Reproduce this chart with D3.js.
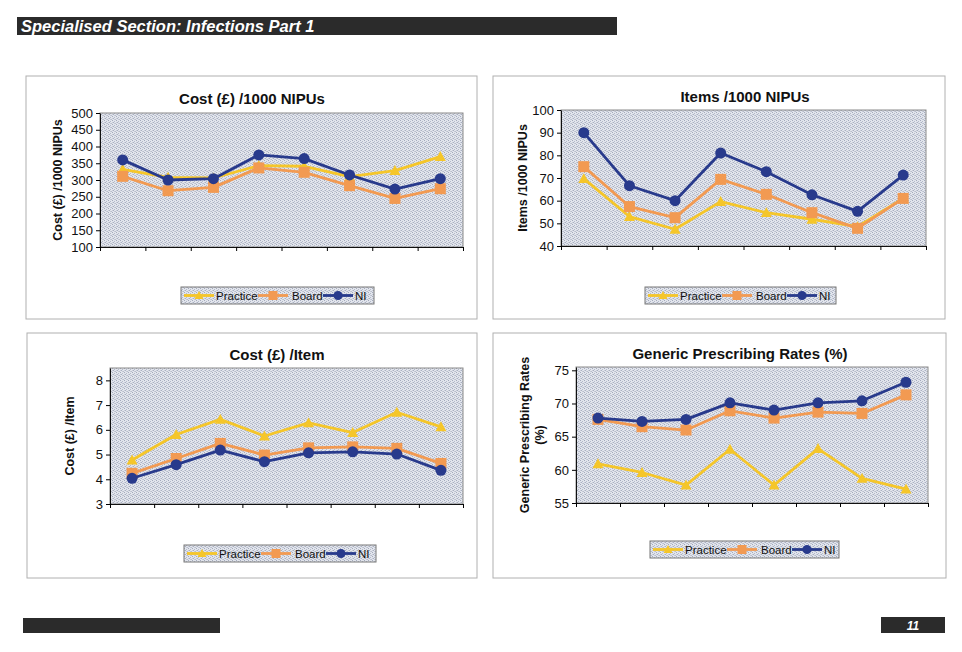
<!DOCTYPE html>
<html><head><meta charset="utf-8">
<script src="https://cdn.jsdelivr.net/npm/d3@7"></script>
<style>
body{margin:0;background:#fff;}
svg{display:block;font-family:"Liberation Sans",Arial,sans-serif;}
</style></head>
<body>
<svg id="c" width="962" height="652"></svg>
<script>
// ---- data ----
const categories = ["1","2","3","4","5","6","7","8"];
const seriesNames = ["Practice","Board","NI"];

const costPer1000Practice = [332, 308, 306, 343, 341, 310, 328, 370];
const costPer1000Board    = [311, 268, 278, 336, 323, 283, 245, 274];
const costPer1000NI       = [360, 300, 304, 375, 364, 315, 273, 304];

const itemsPer1000Practice = [69.7, 53.0, 47.4, 59.6, 54.7, 51.8, 48.5, 61.0];
const itemsPer1000Board    = [75.0, 57.4, 52.5, 69.4, 62.8, 54.7, 47.8, 61.0];
const itemsPer1000NI       = [90.0, 66.6, 60.0, 81.0, 72.8, 62.6, 55.3, 71.3];

const costPerItemPractice = [4.78, 5.81, 6.42, 5.75, 6.28, 5.89, 6.71, 6.12];
const costPerItemBoard    = [4.24, 4.84, 5.45, 4.98, 5.27, 5.31, 5.25, 4.64];
const costPerItemNI       = [4.04, 4.59, 5.18, 4.71, 5.07, 5.11, 5.02, 4.36];

const genericPractice = [60.9, 59.6, 57.7, 63.1, 57.7, 63.2, 58.7, 57.1];
const genericBoard    = [67.6, 66.5, 66.0, 68.9, 67.8, 68.7, 68.5, 71.3];
const genericNI       = [67.8, 67.3, 67.6, 70.1, 69.0, 70.1, 70.4, 73.2];

const ticksCost1000 = [100,150,200,250,300,350,400,450,500];
const ticksItems1000 = [40,50,60,70,80,90,100];
const ticksCostItem = [3,4,5,6,7,8];
const ticksGeneric = [55,60,65,70,75];

const headerText = "Specialised Section: Infections Part 1";
const pageNumber = "11";

// ---- drawing ----
const colors = {Practice:"#f5c62a", Board:"#f29a52", NI:"#283a8c"};
const svg = d3.select("#c");
const defs = svg.append("defs");
const pat = defs.append("pattern").attr("id","dots").attr("width",4).attr("height",4).attr("patternUnits","userSpaceOnUse");
pat.append("rect").attr("width",4).attr("height",4).attr("fill","#e2e5ec");
[[0,0,"#a3aabd"],[2,1,"#b3b9ca"],[1,2,"#a9b0c2"],[3,3,"#b8bdcc"],[2,3,"#c4c9d6"],[0,2,"#c8ccd8"]].forEach(([px,py,c])=>
  pat.append("rect").attr("x",px).attr("y",py).attr("width",1).attr("height",1).attr("fill",c));

// header
svg.append("rect").attr("x",17).attr("y",17).attr("width",600).attr("height",18).attr("fill","#2b2b2b");
svg.append("text").attr("x",21).attr("y",32).attr("fill","#fff").attr("font-size",16.5)
  .attr("font-weight","bold").attr("font-style","italic").text(headerText);
// footer
svg.append("rect").attr("x",23).attr("y",618).attr("width",197).attr("height",15).attr("fill","#2b2b2b");
svg.append("rect").attr("x",881).attr("y",617).attr("width",64).attr("height",16).attr("fill","#2b2b2b");
svg.append("text").attr("x",913).attr("y",630).attr("fill","#fff").attr("font-size",12).attr("text-anchor","middle")
  .attr("font-weight","bold").attr("font-style","italic").text(pageNumber);

function marker(g, name, cx, cy, big){
  const c = colors[name];
  if(name==="Practice"){
    const s = big?5.5:4.5;
    g.append("path").attr("d",`M${cx},${cy-s}L${cx+s},${cy+s*0.8}L${cx-s},${cy+s*0.8}Z`).attr("fill",c);
  } else if(name==="Board"){
    const s = big?5.5:4.5;
    g.append("rect").attr("x",cx-s).attr("y",cy-s).attr("width",2*s).attr("height",2*s).attr("fill",c);
  } else {
    g.append("circle").attr("cx",cx).attr("cy",cy).attr("r",big?5.5:4.5).attr("fill",c);
  }
}

function drawChart(cfg){
  const g = svg.append("g");
  g.append("rect").attr("x",cfg.panel[0]).attr("y",cfg.panel[1]).attr("width",cfg.panel[2]-cfg.panel[0])
    .attr("height",cfg.panel[3]-cfg.panel[1]).attr("fill","none").attr("stroke","#b0b0b0").attr("stroke-width",1);
  const [l,t,r,b] = cfg.plot;
  const x = d3.scaleBand().domain(categories).range([l,r]);
  const xi = d3.scaleLinear().domain([0,categories.length]).range([l,r]);
  const y = d3.scaleLinear().domain(cfg.domain).range([b,t]);
  g.append("rect").attr("x",l).attr("y",t).attr("width",r-l).attr("height",b-t)
    .attr("fill","url(#dots)").attr("stroke","#8a8a8a").attr("stroke-width",1);
  const ya = g.append("g").attr("transform",`translate(${l},0)`)
    .call(d3.axisLeft(y).tickValues(cfg.ticks).tickFormat(d3.format("d")).tickSize(4).tickSizeOuter(0).tickPadding(3));
  ya.selectAll("text").attr("font-size",13).attr("fill","#111").attr("font-family","Liberation Sans, Arial");
  ya.select(".domain").attr("stroke","#111");
  const xa = g.append("g").attr("transform",`translate(0,${b})`)
    .call(d3.axisBottom(xi).tickValues(d3.range(categories.length+1)).tickFormat("").tickSize(4).tickSizeOuter(0));
  xa.select(".domain").attr("stroke","#111");
  g.append("text").attr("x",cfg.titleX).attr("y",cfg.titleY).attr("text-anchor","middle")
    .attr("font-size",15).attr("font-weight","bold").attr("fill","#111").text(cfg.title);
  const yt = g.append("text").attr("transform",`translate(${cfg.ytX},${(t+b)/2}) rotate(-90)`)
    .attr("text-anchor","middle").attr("font-size",12.5).attr("font-weight","bold").attr("fill","#111");
  cfg.ytitle.forEach((s,i)=>yt.append("tspan").attr("x",0).attr("dy",i===0?0:15).text(s));
  const line = d3.line().x((d,i)=>x(categories[i])+x.bandwidth()/2).y(d=>y(d));
  seriesNames.forEach(name=>{
    const vals = cfg.series[name];
    g.append("path").datum(vals).attr("d",line).attr("fill","none").attr("stroke",colors[name])
      .attr("stroke-width",2.8).attr("stroke-linejoin","round");
    vals.forEach((v,i)=>marker(g,name,x(categories[i])+x.bandwidth()/2,y(v),true));
  });
  const [lx,ly,lw,lh] = cfg.legend;
  g.append("rect").attr("x",lx).attr("y",ly).attr("width",lw).attr("height",lh)
    .attr("fill","url(#dots)").attr("stroke","#777").attr("stroke-width",1);
  const offs = [[3,35],[77,111],[142,174]];
  seriesNames.forEach((name,i)=>{
    const x0 = lx+offs[i][0], tx = lx+offs[i][1], cy = ly+lh/2;
    g.append("line").attr("x1",x0).attr("x2",x0+30).attr("y1",cy).attr("y2",cy)
      .attr("stroke",colors[name]).attr("stroke-width",2.8);
    marker(g,name,x0+15,cy,false);
    g.append("text").attr("x",tx).attr("y",cy+4).attr("font-size",11.5).attr("fill","#111").text(name);
  });
}

drawChart({panel:[26,76,477,319], plot:[100,113,463,247], domain:[100,500], ticks:ticksCost1000,
  title:"Cost (£) /1000 NIPUs", titleX:252, titleY:104, ytitle:["Cost (£) /1000 NIPUs"], ytX:62,
  series:{Practice:costPer1000Practice, Board:costPer1000Board, NI:costPer1000NI}, legend:[181,287,193,17]});
drawChart({panel:[493,76,945,319], plot:[561,110,926,246], domain:[40,100], ticks:ticksItems1000,
  title:"Items /1000 NIPUs", titleX:745, titleY:102, ytitle:["Items /1000 NIPUs"], ytX:527,
  series:{Practice:itemsPer1000Practice, Board:itemsPer1000Board, NI:itemsPer1000NI}, legend:[645,287,191,17]});
drawChart({panel:[27,333,477,578], plot:[110,368,463,504], domain:[3,8.5], ticks:ticksCostItem,
  title:"Cost (£) /Item", titleX:277, titleY:360, ytitle:["Cost (£) /Item"], ytX:74,
  series:{Practice:costPerItemPractice, Board:costPerItemBoard, NI:costPerItemNI}, legend:[184,545,192,17]});
drawChart({panel:[493,333,946,578], plot:[576,367,928,503], domain:[55,75.5], ticks:ticksGeneric,
  title:"Generic Prescribing Rates (%)", titleX:740, titleY:359, ytitle:["Generic Prescribing Rates","(%)"], ytX:529,
  series:{Practice:genericPractice, Board:genericBoard, NI:genericNI}, legend:[650,541,189,17]});
</script>
</body></html>
